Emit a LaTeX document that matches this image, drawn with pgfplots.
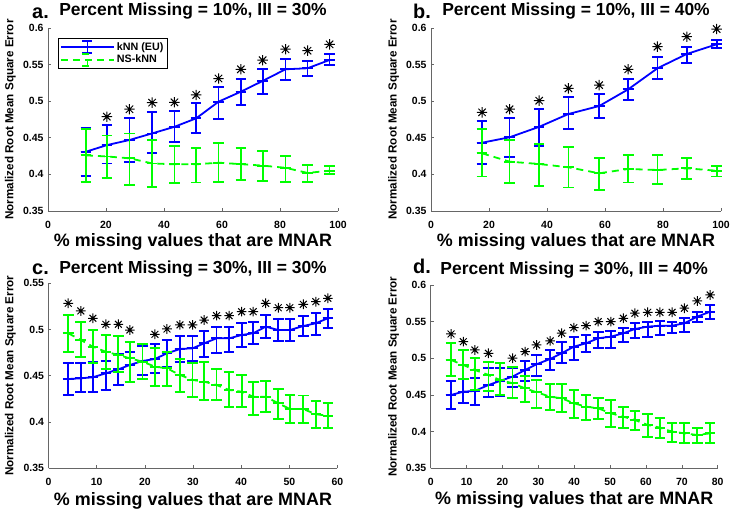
\documentclass[border=0pt]{standalone}
\usepackage{pgfplots}
\pgfplotsset{compat=1.18}
\usepackage{pgfplotstable}
\usepackage{fontspec}
\setmainfont{Liberation Sans}

\definecolor{mblue}{RGB}{0,0,255}
\definecolor{mgreen}{RGB}{0,255,0}

% MATLAB-like '*' marker (4 strokes)
\pgfdeclareplotmark{mstar}{%
  \pgfpathmoveto{\pgfqpoint{-\pgfplotmarksize}{0pt}}\pgfpathlineto{\pgfqpoint{\pgfplotmarksize}{0pt}}%
  \pgfpathmoveto{\pgfqpoint{0pt}{-\pgfplotmarksize}}\pgfpathlineto{\pgfqpoint{0pt}{\pgfplotmarksize}}%
  \pgfpathmoveto{\pgfqpoint{-0.707\pgfplotmarksize}{-0.707\pgfplotmarksize}}\pgfpathlineto{\pgfqpoint{0.707\pgfplotmarksize}{0.707\pgfplotmarksize}}%
  \pgfpathmoveto{\pgfqpoint{-0.707\pgfplotmarksize}{0.707\pgfplotmarksize}}\pgfpathlineto{\pgfqpoint{0.707\pgfplotmarksize}{-0.707\pgfplotmarksize}}%
  \pgfusepathqstroke}

% error bar with caps: colour, lower end, upper end
\newcommand{\ebar}[3]{%
  \draw[#1, solid, line width=1.8bp] #2 -- #3;
  \draw[#1, solid, line width=1.8bp] #2 ++(-5.3bp,0bp) -- ++(10.6bp,0bp) #3 ++(-5.3bp,0bp) -- ++(10.6bp,0bp);}

% x, kNN mean/top/bottom, NS-kNN mean/top/bottom, star height
\pgfplotstableread{
x    ky     kt     kb     ny     nt     nb     s
13.1 0.431  0.463  0.398  0.426  0.462  0.390  nan
20.3 0.440  0.4675 0.415  0.4245 0.453  0.3947 0.4788
28.1 0.447  0.477  0.4165 0.422  0.456  0.386  0.489
35.9 0.456  0.4857 0.429  0.415  0.447  0.383  0.498
43.6 0.465  0.4866 0.4447 0.4138 0.439  0.3887 0.4985
51.1 0.4766 0.497  0.457  0.4138 0.4365 0.389  0.5085
58.8 0.4993 0.519  0.4757 0.416  0.4425 0.390  0.531
66.5 0.513  0.5307 0.4948 0.414  0.4357 0.3923 0.5436
74.0 0.5276 0.544  0.510  0.412  0.4324 0.391  0.556
81.9 0.5436 0.5577 0.529  0.409  0.4255 0.390  0.571
89.5 0.545  0.5553 0.5344 0.402  0.4128 0.390  0.569
97.1 0.5563 0.564  0.549  0.405  0.4119 0.400  0.5777
}\dataA

\pgfplotstableread{
x    ky     kt     kb     ny     nt     nb     s
17.6 0.4433 0.473  0.4138 0.4288 0.462  0.397  0.4848
27.1 0.4507 0.4775 0.4234 0.4174 0.447  0.3878 0.489
37.3 0.465  0.4893 0.4392 0.4142 0.4415 0.3846 0.5007
47.4 0.4825 0.5053 0.4616 0.4097 0.4379 0.382  0.5175
58.0 0.4934 0.5098 0.4775 0.4015 0.422  0.3787 0.522
68.0 0.5162 0.530  0.5016 0.4074 0.4265 0.389  0.5436
78.1 0.545  0.560  0.530  0.406  0.4265 0.3869 0.5745
88.2 0.5645 0.5736 0.5526 0.4083 0.422  0.3937 0.5881
98.5 0.5777 0.5836 0.5722 0.405  0.4119 0.397  0.5986
}\dataB

\pgfplotstableread{
x    ky     kt     kb     ny     nt     nb     s
4.1  0.4465 0.4635 0.4293 0.496  0.5157 0.4754 0.5284
6.7  0.4473 0.4635 0.4322 0.4887 0.5078 0.4707 0.5201
9.2  0.4484 0.4646 0.4328 0.4815 0.4995 0.4635 0.5122
11.9 0.4527 0.466  0.4347 0.476  0.4941 0.4574 0.5057
14.5 0.457  0.4732 0.440  0.4725 0.4934 0.4538 0.5057
16.9 0.4617 0.476  0.4437 0.4689 0.4869 0.4437 0.4995
19.5 0.466  0.4826 0.4509 0.4653 0.484  0.4465 nan
22.1 0.4682 0.484  0.4527 0.4599 0.4797 0.4393 0.4949
24.6 0.4743 0.4887 0.4599 0.4581 0.4761 0.4393 0.5006
27.3 0.479  0.4934 0.4653 0.4509 0.4682 0.4322 0.505
29.9 0.4797 0.4934 0.466  0.4455 0.4635 0.4274 0.505
32.3 0.4851 0.4984 0.4707 0.4437 0.4646 0.4238 0.5103
34.9 0.4905 0.5031 0.475  0.440  0.4574 0.4238 0.515
37.5 0.4905 0.5031 0.4754 0.4347 0.4544 0.4166 0.515
40.1 0.4941 0.5068 0.4815 0.4328 0.4509 0.4166 0.5193
42.5 0.496  0.5078 0.484  0.4274 0.443  0.4076 0.5193
45.1 0.5031 0.5157 0.4905 0.4274 0.4444 0.4112 0.5284
47.7 0.4995 0.5114 0.4876 0.4203 0.4357 0.4033 0.5236
50.1 0.4995 0.5114 0.4876 0.4141 0.4293 0.3987 0.5236
52.9 0.5038 0.5146 0.4934 0.4141 0.4286 0.3987 0.5273
55.5 0.5068 0.5176 0.4941 0.4084 0.4228 0.3932 0.5301
58.0 0.5122 0.5222 0.5014 0.4069 0.4203 0.3939 0.5338
}\dataC

\pgfplotstableread{
x    ky     kt     kb     ny     nt     nb     s
5.66 0.4500 0.4691 0.4309 0.4977 0.5205 0.4763 0.5332
9.1  0.4545 0.4718 0.4387 0.4909 0.5114 0.4718 0.5227
12.3 0.4555 0.4728 0.4364 0.4841 0.5001 0.4568 0.5114
16.1 0.4636 0.4873 0.4477 0.4773 0.4946 0.4555 0.5069
19.3 0.4691 0.4873 0.4491 0.4705 0.4932 0.4500 nan
22.8 0.475  0.4873 0.4613 0.466  0.4886 0.4455 0.5001
26.3 0.4841 0.4964 0.4691 0.4591 0.4763 0.4409 0.5091
29.5 0.4919 0.5046 0.4763 0.4537 0.4705 0.4318 0.5182
33.3 0.4991 0.5114 0.4841 0.4477 0.4646 0.4295 0.5237
36.5 0.5069 0.5219 0.4932 0.4455 0.4646 0.4264 0.5342
39.9 0.5159 0.5295 0.4977 0.4387 0.4568 0.4182 0.5418
43.3 0.5205 0.5319 0.5083 0.4341 0.4500 0.4159 0.5445
46.7 0.5274 0.5364 0.5137 0.4318 0.4463 0.4168 0.5500
50.2 0.5295 0.5373 0.5145 0.4250 0.4432 0.4068 0.5500
53.7 0.5342 0.5410 0.5219 0.4204 0.4341 0.4054 0.5546
56.9 0.5400 0.5478 0.5282 0.4159 0.4282 0.4022 0.5615
60.5 0.5432 0.5500 0.5295 0.4091 0.4237 0.3931 0.5628
63.9 0.5445 0.5510 0.5319 0.4054 0.4182 0.3917 0.5628
67.3 0.5445 0.5500 0.5342 0.4000 0.4114 0.3863 0.5628
70.7 0.5478 0.5546 0.5364 0.3977 0.4114 0.3841 0.5683
74.3 0.5568 0.5628 0.5492 0.3954 0.4055 0.3841 0.5782
77.9 0.5636 0.5728 0.5537 0.3977 0.4114 0.3841 0.5864
}\dataD

\pgfplotsset{
  panel/.style={
    scale only axis, clip=false,
    axis x line*=bottom, axis y line*=left,
    axis line style={-, draw=black!60, line width=0.6bp},
    tick align=inside, major tick length=3bp,
    tick style={draw=black!60, line width=0.6bp},
    ymin=0.35,
    /pgf/number format/assume math mode=true,
    ticklabel style={font=\bfseries\fontsize{10.5}{12}\selectfont},
    xticklabel style={anchor=base, yshift=-17.5bp},
    yticklabel style={/pgf/number format/fixed, /pgf/number format/precision=2, xshift=-1bp},
    scaled y ticks=false,
    title style={font=\bfseries\fontsize{17.5}{20}\selectfont, anchor=base},
    xlabel style={font=\bfseries\fontsize{18}{20}\selectfont, anchor=base},
    ylabel style={font=\bfseries\fontsize{11.7}{13}\selectfont, anchor=base},
    xlabel={\% missing values that are MNAR},
    ylabel={Normalized Root Mean Square Error},
  },
  knn/.style={color=mblue, line width=1.8bp, no markers,
    error bars/y dir=both, error bars/y explicit,
    error bars/draw error bar/.code 2 args={\ebar{mblue}{##1}{##2}}},
  nsknn/.style={color=mgreen, line width=1.8bp, no markers, dash pattern=on 7bp off 5bp,
    error bars/y dir=both, error bars/y explicit,
    error bars/draw error bar/.code 2 args={\ebar{mgreen}{##1}{##2}}},
  stars/.style={only marks, mark=mstar, mark size=#1, line width=1bp, black, forget plot},
}

\newcommand{\letterfont}{\bfseries\fontsize{20}{22}\selectfont}

\begin{document}
\begin{tikzpicture}
\useasboundingbox (0bp,0bp) rectangle (733bp,515bp);

% ---- a ----
\begin{axis}[panel, at={(48bp,304bp)}, anchor=south west, width=290bp, height=183bp,
  xmin=0, xmax=100, xtick={0,20,...,100}, ymax=0.6, ytick={0.35,0.4,0.45,0.5,0.55,0.6},
  title={Percent Missing = 10\%, III = 30\%},
  title style={at={(0.5,1.0344)}},
  xlabel style={at={(0.5,-0.195)}},
  ylabel style={at={(-0.1197,0.5)}},
  legend style={at={(0.0355,0.9437)}, anchor=north west, draw=black, line width=0.5bp,
    font=\bfseries\fontsize{10.8}{12}\selectfont, row sep=-1bp, inner sep=1.5bp},
  legend cell align=left]
\addplot[knn, legend image code/.code={%
    \draw[mblue, line width=1.8bp] (0bp,0bp) -- (53bp,0bp);
    \draw[mblue, line width=1.8bp] (26.5bp,-6bp) -- (26.5bp,6bp) (21.5bp,6bp) -- (31.5bp,6bp) (21.5bp,-6bp) -- (31.5bp,-6bp);}]
  table[x=x, y=ky, y error plus expr=\thisrow{kt}-\thisrow{ky}, y error minus expr=\thisrow{ky}-\thisrow{kb}] {\dataA};
\addlegendentry{kNN (EU)}
\addplot[nsknn, legend image code/.code={%
    \draw[mgreen, line width=1.8bp, dash pattern=on 7bp off 5bp] (0bp,0bp) -- (53bp,0bp);
    \draw[mgreen, line width=1.8bp] (26.5bp,-6bp) -- (26.5bp,6bp) (21.5bp,6bp) -- (31.5bp,6bp) (21.5bp,-6bp) -- (31.5bp,-6bp);}]
  table[x=x, y=ny, y error plus expr=\thisrow{nt}-\thisrow{ny}, y error minus expr=\thisrow{ny}-\thisrow{nb}] {\dataA};
\addlegendentry{NS-kNN}
\addplot[stars=5.2bp] table[x=x, y=s] {\dataA};
\end{axis}

% ---- b ----
\begin{axis}[panel, at={(431bp,304bp)}, anchor=south west, width=290bp, height=183bp,
  xmin=0, xmax=100, xtick={0,20,...,100}, ymax=0.6, ytick={0.35,0.4,0.45,0.5,0.55,0.6},
  title={Percent Missing = 10\%, III = 40\%},
  title style={at={(0.5,1.0344)}},
  xlabel style={at={(0.5,-0.195)}},
  ylabel style={at={(-0.1183,0.5)}}]
\addplot[knn] table[x=x, y=ky, y error plus expr=\thisrow{kt}-\thisrow{ky}, y error minus expr=\thisrow{ky}-\thisrow{kb}] {\dataB};
\addplot[nsknn] table[x=x, y=ny, y error plus expr=\thisrow{nt}-\thisrow{ny}, y error minus expr=\thisrow{ny}-\thisrow{nb}] {\dataB};
\addplot[stars=5.2bp] table[x=x, y=s] {\dataB};
\end{axis}

% ---- c ----
\begin{axis}[panel, at={(48.5bp,46.7bp)}, anchor=south west, width=289bp, height=185bp,
  xmin=0, xmax=60, xtick={0,10,...,60}, ymax=0.55, ytick={0.35,0.4,0.45,0.5,0.55},
  title={Percent Missing = 30\%, III = 30\%},
  title style={at={(0.5,1.018)}},
  xlabel style={at={(0.5,-0.2)}},
  ylabel style={at={(-0.1218,0.5)}}]
\addplot[knn] table[x=x, y=ky, y error plus expr=\thisrow{kt}-\thisrow{ky}, y error minus expr=\thisrow{ky}-\thisrow{kb}] {\dataC};
\addplot[nsknn] table[x=x, y=ny, y error plus expr=\thisrow{nt}-\thisrow{ny}, y error minus expr=\thisrow{ny}-\thisrow{nb}] {\dataC};
\addplot[stars=4.8bp] table[x=x, y=s] {\dataC};
\end{axis}

% ---- d ----
\begin{axis}[panel, at={(430.7bp,46.7bp)}, anchor=south west, width=287bp, height=183.3bp,
  xmin=0, xmax=80, xtick={0,10,...,80}, ymax=0.6, ytick={0.35,0.4,0.45,0.5,0.55,0.6},
  title={Percent Missing = 30\%, III = 40\%},
  title style={at={(0.5,1.027)}},
  xlabel style={at={(0.5,-0.2)}},
  ylabel style={at={(-0.1185,0.5)}}]
\addplot[knn] table[x=x, y=ky, y error plus expr=\thisrow{kt}-\thisrow{ky}, y error minus expr=\thisrow{ky}-\thisrow{kb}] {\dataD};
\addplot[nsknn] table[x=x, y=ny, y error plus expr=\thisrow{nt}-\thisrow{ny}, y error minus expr=\thisrow{ny}-\thisrow{nb}] {\dataD};
\addplot[stars=4.8bp] table[x=x, y=s] {\dataD};
\end{axis}

% panel letters
\node[anchor=base west, inner sep=0, font=\letterfont] at (32bp,496.7bp) {a.};
\node[anchor=base west, inner sep=0, font=\letterfont] at (413bp,496.7bp) {b.};
\node[anchor=base west, inner sep=0, font=\letterfont] at (32bp,240bp) {c.};
\node[anchor=base west, inner sep=0, font=\letterfont] at (413bp,241bp) {d.};
\end{tikzpicture}
\end{document}
